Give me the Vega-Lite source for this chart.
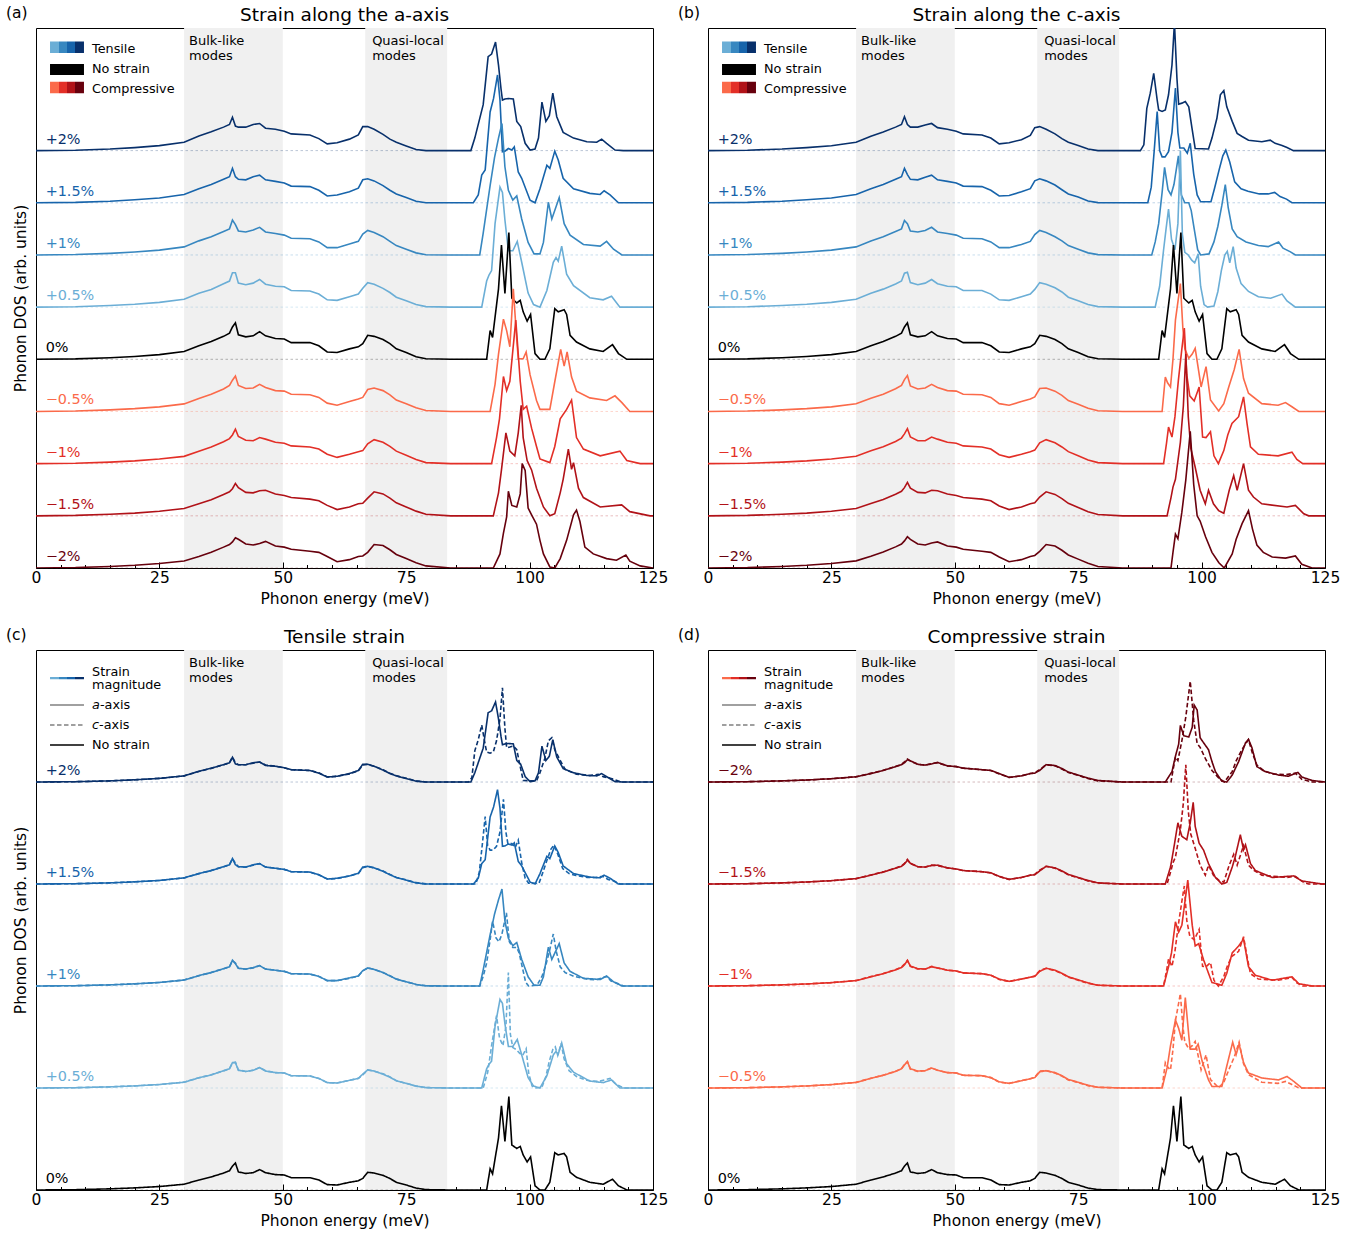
{
"$schema":"https://vega.github.io/schema/vega-lite/v6.json",
"padding":{"left":5,"top":5,"right":5,"bottom":5},
"bounds":"flush",
"columns":2,
"spacing":{"row":82,"column":55},
"config":{"font":"DejaVu Sans","view":{"stroke":"black","strokeWidth":1},
"title":{"fontSize":18.5,"fontWeight":"normal","color":"black","offset":-18,"font":"DejaVu Sans"},
"axisY":{"ticks":false,"labels":false,"domain":false,"grid":false,"titleFontSize":15.5,"titleFontWeight":"normal","titleColor":"black","titlePadding":8,"titleFont":"DejaVu Sans"},
"axisX":{"grid":false,"domain":false,"labelFontSize":15.5,"labelColor":"black","tickColor":"black","titleFontSize":15.5,"titleFontWeight":"normal","titleColor":"black","labelFlush":false,"labelOverlap":false,"labelFont":"DejaVu Sans","titleFont":"DejaVu Sans"}},
"datasets":{
"curves":[
{"k":"at4","ax":"a","g":"t","m":4,"s":"+2%"},{"k":"at3","ax":"a","g":"t","m":3,"s":"+1.5%"},{"k":"at2","ax":"a","g":"t","m":2,"s":"+1%"},{"k":"at1","ax":"a","g":"t","m":1,"s":"+0.5%"},
{"k":"ct4","ax":"c","g":"t","m":4,"s":"+2%"},{"k":"ct3","ax":"c","g":"t","m":3,"s":"+1.5%"},{"k":"ct2","ax":"c","g":"t","m":2,"s":"+1%"},{"k":"ct1","ax":"c","g":"t","m":1,"s":"+0.5%"},
{"k":"z0","ax":"n","g":"z","m":0,"s":"0%"},
{"k":"ac1","ax":"a","g":"c","m":1,"s":"−0.5%"},{"k":"ac2","ax":"a","g":"c","m":2,"s":"−1%"},{"k":"ac3","ax":"a","g":"c","m":3,"s":"−1.5%"},{"k":"ac4","ax":"a","g":"c","m":4,"s":"−2%"},
{"k":"cc1","ax":"c","g":"c","m":1,"s":"−0.5%"},{"k":"cc2","ax":"c","g":"c","m":2,"s":"−1%"},{"k":"cc3","ax":"c","g":"c","m":3,"s":"−1.5%"},{"k":"cc4","ax":"c","g":"c","m":4,"s":"−2%"}],
"dos":[
{"e":0,"at4":0,"at3":0,"at2":0,"at1":0,"ct4":0,"ct3":0,"ct2":0,"ct1":0,"z0":0,"ac1":0,"ac2":0,"ac3":0,"ac4":0,"cc1":0,"cc2":0,"cc3":0,"cc4":0},
{"e":8,"at4":0.008,"at3":0.008,"at2":0.008,"at1":0.008,"ct4":0.008,"ct3":0.008,"ct2":0.008,"ct1":0.008,"z0":0.008,"ac1":0.008,"ac2":0.008,"ac3":0.008,"ac4":0.008,"cc1":0.008,"cc2":0.008,"cc3":0.008,"cc4":0.008},
{"e":15,"at4":0.03,"at3":0.03,"at2":0.03,"at1":0.03,"ct4":0.03,"ct3":0.03,"ct2":0.03,"ct1":0.03,"z0":0.03,"ac1":0.03,"ac2":0.03,"ac3":0.03,"ac4":0.03,"cc1":0.03,"cc2":0.03,"cc3":0.03,"cc4":0.03},
{"e":20,"at4":0.058,"at3":0.057,"at2":0.056,"at1":0.055,"ct4":0.057,"ct3":0.057,"ct2":0.056,"ct1":0.055,"z0":0.055,"ac1":0.054,"ac2":0.053,"ac3":0.052,"ac4":0.052,"cc1":0.054,"cc2":0.053,"cc3":0.052,"cc4":0.052},
{"e":25,"at4":0.095,"at3":0.093,"at2":0.092,"at1":0.091,"ct4":0.094,"ct3":0.093,"ct2":0.092,"ct1":0.091,"z0":0.09,"ac1":0.089,"ac2":0.088,"ac3":0.087,"ac4":0.086,"cc1":0.089,"cc2":0.088,"cc3":0.087,"cc4":0.086},
{"e":30,"at4":0.16,"at3":0.16,"at2":0.155,"at1":0.15,"ct4":0.16,"ct3":0.158,"ct2":0.155,"ct1":0.152,"z0":0.15,"ac1":0.145,"ac2":0.14,"ac3":0.14,"ac4":0.135,"cc1":0.147,"cc2":0.143,"cc3":0.14,"cc4":0.137},
{"e":33,"at4":0.28,"at3":0.27,"at2":0.27,"at1":0.265,"ct4":0.275,"ct3":0.27,"ct2":0.268,"ct1":0.265,"z0":0.26,"ac1":0.25,"ac2":0.24,"ac3":0.23,"ac4":0.22,"cc1":0.252,"cc2":0.245,"cc3":0.235,"cc4":0.225},
{"e":35.5,"at4":0.36,"at3":0.35,"at2":0.35,"at1":0.34,"ct4":0.355,"ct3":0.35,"ct2":0.35,"ct1":0.345,"z0":0.34,"ac1":0.33,"ac2":0.32,"ac3":0.31,"ac4":0.3,"cc1":0.332,"cc2":0.325,"cc3":0.315,"cc4":0.305},
{"e":38,"at4":0.45,"at3":0.45,"at2":0.45,"at1":0.45,"ct4":0.45,"ct3":0.45,"ct2":0.45,"ct1":0.445,"z0":0.44,"ac1":0.43,"ac2":0.42,"ac3":0.41,"ac4":0.4,"cc1":0.435,"cc2":0.425,"cc3":0.415,"cc4":0.405},
{"e":39.2,"at4":0.5,"at3":0.5,"at2":0.5,"at1":0.5,"ct4":0.5,"ct3":0.5,"ct2":0.5,"ct1":0.5,"z0":0.5,"ac1":0.5,"ac2":0.48,"ac3":0.46,"ac4":0.45,"cc1":0.5,"cc2":0.49,"cc3":0.47,"cc4":0.46},
{"e":39.8,"at4":0.64,"at3":0.66,"at2":0.67,"at1":0.66,"ct4":0.65,"ct3":0.66,"ct2":0.66,"ct1":0.65,"z0":0.62,"ac1":0.6,"ac2":0.55,"ac3":0.52,"ac4":0.5,"cc1":0.61,"cc2":0.57,"cc3":0.54,"cc4":0.52},
{"e":40.4,"at4":0.47,"at3":0.5,"at2":0.58,"at1":0.66,"ct4":0.5,"ct3":0.54,"ct2":0.6,"ct1":0.67,"z0":0.7,"ac1":0.68,"ac2":0.66,"ac3":0.62,"ac4":0.58,"cc1":0.69,"cc2":0.67,"cc3":0.64,"cc4":0.6},
{"e":41,"at4":0.45,"at3":0.45,"at2":0.46,"at1":0.46,"ct4":0.45,"ct3":0.45,"ct2":0.46,"ct1":0.47,"z0":0.47,"ac1":0.5,"ac2":0.52,"ac3":0.54,"ac4":0.55,"cc1":0.49,"cc2":0.51,"cc3":0.53,"cc4":0.55},
{"e":42.5,"at4":0.45,"at3":0.44,"at2":0.44,"at1":0.43,"ct4":0.45,"ct3":0.44,"ct2":0.44,"ct1":0.43,"z0":0.43,"ac1":0.44,"ac2":0.45,"ac3":0.45,"ac4":0.46,"cc1":0.43,"cc2":0.44,"cc3":0.45,"cc4":0.46},
{"e":44,"at4":0.5,"at3":0.5,"at2":0.48,"at1":0.46,"ct4":0.49,"ct3":0.49,"ct2":0.47,"ct1":0.46,"z0":0.45,"ac1":0.45,"ac2":0.44,"ac3":0.44,"ac4":0.44,"cc1":0.45,"cc2":0.44,"cc3":0.44,"cc4":0.44},
{"e":45.3,"at4":0.52,"at3":0.53,"at2":0.53,"at1":0.53,"ct4":0.52,"ct3":0.53,"ct2":0.53,"ct1":0.53,"z0":0.53,"ac1":0.52,"ac2":0.5,"ac3":0.48,"ac4":0.47,"cc1":0.52,"cc2":0.51,"cc3":0.49,"cc4":0.48},
{"e":46.5,"at4":0.43,"at3":0.44,"at2":0.44,"at1":0.44,"ct4":0.44,"ct3":0.44,"ct2":0.44,"ct1":0.45,"z0":0.45,"ac1":0.46,"ac2":0.47,"ac3":0.49,"ac4":0.51,"cc1":0.46,"cc2":0.47,"cc3":0.48,"cc4":0.5},
{"e":48.5,"at4":0.41,"at3":0.41,"at2":0.41,"at1":0.4,"ct4":0.41,"ct3":0.41,"ct2":0.41,"ct1":0.4,"z0":0.4,"ac1":0.4,"ac2":0.41,"ac3":0.42,"ac4":0.42,"cc1":0.4,"cc2":0.41,"cc3":0.42,"cc4":0.42},
{"e":50.3,"at4":0.37,"at3":0.38,"at2":0.38,"at1":0.39,"ct4":0.37,"ct3":0.38,"ct2":0.38,"ct1":0.39,"z0":0.39,"ac1":0.39,"ac2":0.39,"ac3":0.39,"ac4":0.4,"cc1":0.39,"cc2":0.39,"cc3":0.39,"cc4":0.4},
{"e":51.7,"at4":0.32,"at3":0.32,"at2":0.32,"at1":0.32,"ct4":0.32,"ct3":0.32,"ct2":0.32,"ct1":0.32,"z0":0.32,"ac1":0.33,"ac2":0.34,"ac3":0.35,"ac4":0.36,"cc1":0.33,"cc2":0.34,"cc3":0.35,"cc4":0.36},
{"e":55.5,"at4":0.3,"at3":0.31,"at2":0.31,"at1":0.31,"ct4":0.3,"ct3":0.31,"ct2":0.31,"ct1":0.32,"z0":0.32,"ac1":0.32,"ac2":0.32,"ac3":0.32,"ac4":0.32,"cc1":0.32,"cc2":0.32,"cc3":0.32,"cc4":0.32},
{"e":57.3,"at4":0.23,"at3":0.24,"at2":0.25,"at1":0.25,"ct4":0.24,"ct3":0.24,"ct2":0.25,"ct1":0.25,"z0":0.26,"ac1":0.27,"ac2":0.28,"ac3":0.29,"ac4":0.3,"cc1":0.27,"cc2":0.28,"cc3":0.29,"cc4":0.3},
{"e":59,"at4":0.13,"at3":0.13,"at2":0.14,"at1":0.14,"ct4":0.13,"ct3":0.13,"ct2":0.14,"ct1":0.14,"z0":0.14,"ac1":0.16,"ac2":0.18,"ac3":0.2,"ac4":0.22,"cc1":0.15,"cc2":0.17,"cc3":0.19,"cc4":0.21},
{"e":61,"at4":0.15,"at3":0.15,"at2":0.14,"at1":0.13,"ct4":0.15,"ct3":0.14,"ct2":0.14,"ct1":0.13,"z0":0.13,"ac1":0.12,"ac2":0.12,"ac3":0.12,"ac4":0.12,"cc1":0.12,"cc2":0.12,"cc3":0.12,"cc4":0.12},
{"e":63.5,"at4":0.22,"at3":0.21,"at2":0.21,"at1":0.2,"ct4":0.21,"ct3":0.21,"ct2":0.2,"ct1":0.2,"z0":0.2,"ac1":0.19,"ac2":0.18,"ac3":0.17,"ac4":0.16,"cc1":0.19,"cc2":0.18,"cc3":0.17,"cc4":0.16},
{"e":65.3,"at4":0.3,"at3":0.28,"at2":0.26,"at1":0.25,"ct4":0.29,"ct3":0.27,"ct2":0.26,"ct1":0.25,"z0":0.24,"ac1":0.24,"ac2":0.23,"ac3":0.23,"ac4":0.22,"cc1":0.24,"cc2":0.23,"cc3":0.23,"cc4":0.22},
{"e":66.2,"at4":0.46,"at3":0.44,"at2":0.4,"at1":0.36,"ct4":0.44,"ct3":0.42,"ct2":0.39,"ct1":0.34,"z0":0.3,"ac1":0.27,"ac2":0.25,"ac3":0.24,"ac4":0.23,"cc1":0.28,"cc2":0.26,"cc3":0.25,"cc4":0.24},
{"e":67.2,"at4":0.46,"at3":0.46,"at2":0.47,"at1":0.47,"ct4":0.46,"ct3":0.46,"ct2":0.47,"ct1":0.47,"z0":0.46,"ac1":0.42,"ac2":0.38,"ac3":0.34,"ac4":0.3,"cc1":0.44,"cc2":0.4,"cc3":0.36,"cc4":0.32},
{"e":68.5,"at4":0.41,"at3":0.42,"at2":0.43,"at1":0.44,"ct4":0.41,"ct3":0.42,"ct2":0.43,"ct1":0.44,"z0":0.44,"ac1":0.45,"ac2":0.46,"ac3":0.46,"ac4":0.45,"cc1":0.45,"cc2":0.46,"cc3":0.46,"cc4":0.45},
{"e":70.3,"at4":0.31,"at3":0.33,"at2":0.35,"at1":0.36,"ct4":0.32,"ct3":0.34,"ct2":0.35,"ct1":0.37,"z0":0.38,"ac1":0.4,"ac2":0.41,"ac3":0.42,"ac4":0.43,"cc1":0.39,"cc2":0.4,"cc3":0.41,"cc4":0.42},
{"e":71.7,"at4":0.22,"at3":0.24,"at2":0.26,"at1":0.28,"ct4":0.23,"ct3":0.25,"ct2":0.27,"ct1":0.29,"z0":0.3,"ac1":0.32,"ac2":0.33,"ac3":0.34,"ac4":0.35,"cc1":0.31,"cc2":0.32,"cc3":0.33,"cc4":0.34},
{"e":73,"at4":0.16,"at3":0.17,"at2":0.18,"at1":0.19,"ct4":0.16,"ct3":0.17,"ct2":0.18,"ct1":0.19,"z0":0.2,"ac1":0.22,"ac2":0.24,"ac3":0.25,"ac4":0.26,"cc1":0.21,"cc2":0.23,"cc3":0.24,"cc4":0.25},
{"e":75,"at4":0.09,"at3":0.1,"at2":0.11,"at1":0.12,"ct4":0.1,"ct3":0.11,"ct2":0.11,"ct1":0.12,"z0":0.13,"ac1":0.15,"ac2":0.16,"ac3":0.17,"ac4":0.18,"cc1":0.14,"cc2":0.15,"cc3":0.16,"cc4":0.17},
{"e":77,"at4":0.02,"at3":0.03,"at2":0.04,"at1":0.05,"ct4":0.03,"ct3":0.035,"ct2":0.04,"ct1":0.05,"z0":0.05,"ac1":0.07,"ac2":0.08,"ac3":0.09,"ac4":0.1,"cc1":0.06,"cc2":0.07,"cc3":0.08,"cc4":0.09},
{"e":79,"at4":0,"at3":0,"at2":0.005,"at1":0.01,"ct4":0,"ct3":0.003,"ct2":0.006,"ct1":0.01,"z0":0.01,"ac1":0.02,"ac2":0.02,"ac3":0.03,"ac4":0.04,"cc1":0.015,"cc2":0.02,"cc3":0.025,"cc4":0.03},
{"e":84,"at4":0,"at3":0,"at2":0,"at1":0,"ct4":0,"ct3":0,"ct2":0,"ct1":0,"z0":0,"ac1":0,"ac2":0,"ac3":0,"ac4":0,"cc1":0,"cc2":0,"cc3":0,"cc4":0},
{"e":88.1,"at4":0},{"e":88.9,"at4":0.24},{"e":90.6,"at4":0.88},{"e":91.6,"at4":1.8},{"e":92.3,"at4":1.85},{"e":93.1,"at4":2.08},{"e":93.7,"at4":1.64},{"e":94.2,"at4":1.19},{"e":94.5,"at4":0.97},{"e":95.0,"at4":0.99},{"e":95.7,"at4":1.0},{"e":96.7,"at4":0.99},{"e":97.4,"at4":0.56},{"e":98.2,"at4":0.46},{"e":99.1,"at4":0.14},{"e":100.1,"at4":0.01},{"e":101.1,"at4":0.03},{"e":101.8,"at4":0.24},{"e":102.5,"at4":0.93},{"e":103.3,"at4":0.56},{"e":104.0,"at4":0.67},{"e":104.7,"at4":1.1},{"e":105.5,"at4":0.65},{"e":106.8,"at4":0.35},{"e":108.9,"at4":0.24},{"e":111.6,"at4":0.17},{"e":113.6,"at4":0.16},{"e":114.6,"at4":0.22},{"e":115.6,"at4":0.14},{"e":117.3,"at4":0.01},{"e":119.0,"at4":0},
{"e":88.6,"at3":0},{"e":89.6,"at3":0.15},{"e":90.3,"at3":0.53},{"e":91.0,"at3":0.63},{"e":92.0,"at3":1.74},{"e":92.7,"at3":2.0},{"e":93.5,"at3":2.45},{"e":94.0,"at3":1.97},{"e":94.5,"at3":0.98},{"e":95.0,"at3":0.99},{"e":95.7,"at3":1.04},{"e":96.4,"at3":1.01},{"e":96.9,"at3":1.07},{"e":97.7,"at3":0.59},{"e":98.4,"at3":0.47},{"e":100.1,"at3":0.05},{"e":101.1,"at3":0},{"e":102.1,"at3":0.27},{"e":103.5,"at3":0.72},{"e":104.1,"at3":0.66},{"e":105.1,"at3":0.99},{"e":105.8,"at3":0.82},{"e":106.8,"at3":0.47},{"e":108.9,"at3":0.27},{"e":112.2,"at3":0.18},{"e":114.3,"at3":0.16},{"e":115.1,"at3":0.23},{"e":116.3,"at3":0.15},{"e":118.0,"at3":0},
{"e":89.9,"at2":0},{"e":90.6,"at2":0.42},{"e":92.0,"at2":1.33},{"e":92.9,"at2":1.87},{"e":93.7,"at2":2.24},{"e":94.4,"at2":2.52},{"e":95.0,"at2":1.69},{"e":95.7,"at2":1.24},{"e":96.6,"at2":1.05},{"e":97.4,"at2":1.13},{"e":98.4,"at2":0.69},{"e":99.7,"at2":0.24},{"e":100.9,"at2":0.02},{"e":102.1,"at2":0.02},{"e":102.8,"at2":0.24},{"e":103.8,"at2":1.01},{"e":104.5,"at2":0.69},{"e":106.0,"at2":1.1},{"e":107.0,"at2":0.6},{"e":108.2,"at2":0.38},{"e":110.9,"at2":0.2},{"e":114.3,"at2":0.17},{"e":115.6,"at2":0.26},{"e":117.0,"at2":0.11},{"e":118.7,"at2":0},
{"e":90.3,"at1":0},{"e":91.3,"at1":0.5},{"e":91.8,"at1":0.62},{"e":92.3,"at1":0.7},{"e":93.0,"at1":1.6},{"e":94.0,"at1":2.3},{"e":94.5,"at1":2.2},{"e":95.0,"at1":1.67},{"e":95.7,"at1":1.08},{"e":96.6,"at1":1.08},{"e":97.5,"at1":1.26},{"e":98.4,"at1":0.86},{"e":99.7,"at1":0.27},{"e":100.8,"at1":0.05},{"e":102.1,"at1":0},{"e":103.5,"at1":0.32},{"e":104.8,"at1":0.86},{"e":105.35,"at1":0.95},{"e":105.8,"at1":0.88},{"e":106.5,"at1":1.17},{"e":107.5,"at1":0.63},{"e":108.9,"at1":0.41},{"e":112.2,"at1":0.18},{"e":114.9,"at1":0.14},{"e":116.6,"at1":0.21},{"e":118.3,"at1":0},
{"e":87.6,"ct4":0},{"e":88.3,"ct4":0.11},{"e":88.9,"ct4":0.81},{"e":89.6,"ct4":1.1},{"e":90.3,"ct4":1.48},{"e":91.0,"ct4":0.97},{"e":91.3,"ct4":0.78},{"e":92.0,"ct4":0.75},{"e":92.65,"ct4":0.78},{"e":93.3,"ct4":1.07},{"e":94.0,"ct4":1.64},{"e":94.5,"ct4":2.45},{"e":95.0,"ct4":1.39},{"e":95.35,"ct4":0.89},{"e":96.0,"ct4":0.91},{"e":96.7,"ct4":0.94},{"e":97.4,"ct4":0.84},{"e":98.05,"ct4":0.43},{"e":98.7,"ct4":0.04},{"e":101.4,"ct4":0.03},{"e":102.1,"ct4":0.24},{"e":103.1,"ct4":0.62},{"e":103.8,"ct4":1.07},{"e":104.5,"ct4":1.15},{"e":105.1,"ct4":0.84},{"e":106.2,"ct4":0.56},{"e":107.2,"ct4":0.33},{"e":108.2,"ct4":0.27},{"e":109.5,"ct4":0.2},{"e":112.2,"ct4":0.17},{"e":113.9,"ct4":0.2},{"e":114.9,"ct4":0.14},{"e":116.3,"ct4":0.1},{"e":117.3,"ct4":0.06},{"e":118.6,"ct4":0},
{"e":89.1,"ct3":0},{"e":89.8,"ct3":0.3},{"e":90.4,"ct3":1.0},{"e":91.0,"ct3":1.75},{"e":91.5,"ct3":1.0},{"e":92.0,"ct3":0.88},{"e":92.6,"ct3":0.88},{"e":93.3,"ct3":0.98},{"e":94.0,"ct3":1.35},{"e":94.7,"ct3":2.2},{"e":95.2,"ct3":1.35},{"e":95.6,"ct3":1.05},{"e":96.4,"ct3":1.05},{"e":97.1,"ct3":0.95},{"e":97.7,"ct3":1.14},{"e":98.4,"ct3":0.55},{"e":99.1,"ct3":0.15},{"e":99.8,"ct3":0.02},{"e":101.9,"ct3":0.02},{"e":102.6,"ct3":0.27},{"e":103.6,"ct3":0.65},{"e":104.3,"ct3":0.9},{"e":104.9,"ct3":1.01},{"e":105.7,"ct3":0.78},{"e":106.7,"ct3":0.4},{"e":108.0,"ct3":0.27},{"e":109.4,"ct3":0.22},{"e":111.7,"ct3":0.17},{"e":113.5,"ct3":0.17},{"e":114.8,"ct3":0.2},{"e":115.9,"ct3":0.12},{"e":117.2,"ct3":0.07},{"e":118.3,"ct3":0},
{"e":89.9,"ct2":0},{"e":90.6,"ct2":0.25},{"e":91.3,"ct2":0.6},{"e":92.0,"ct2":1.2},{"e":92.5,"ct2":1.68},{"e":93.2,"ct2":1.25},{"e":93.8,"ct2":1.15},{"e":94.4,"ct2":1.35},{"e":95.3,"ct2":1.9},{"e":95.9,"ct2":1.15},{"e":96.6,"ct2":1.0},{"e":97.4,"ct2":1.0},{"e":97.9,"ct2":0.85},{"e":98.5,"ct2":0.5},{"e":99.2,"ct2":0.1},{"e":99.8,"ct2":0},{"e":101.5,"ct2":0.02},{"e":102.5,"ct2":0.25},{"e":103.3,"ct2":0.55},{"e":104.1,"ct2":0.95},{"e":104.8,"ct2":1.35},{"e":105.4,"ct2":0.9},{"e":106.2,"ct2":0.5},{"e":107.2,"ct2":0.35},{"e":109.0,"ct2":0.25},{"e":111.5,"ct2":0.18},{"e":113.5,"ct2":0.16},{"e":115.6,"ct2":0.25},{"e":116.5,"ct2":0.13},{"e":118.0,"ct2":0.06},{"e":119.0,"ct2":0},
{"e":90.6,"ct1":0},{"e":91.5,"ct1":0.4},{"e":92.3,"ct1":1.1},{"e":92.8,"ct1":1.5},{"e":93.3,"ct1":1.88},{"e":93.9,"ct1":1.3},{"e":94.6,"ct1":1.1},{"e":95.2,"ct1":1.6},{"e":95.7,"ct1":3.0},{"e":96.1,"ct1":1.4},{"e":96.6,"ct1":1.05},{"e":97.3,"ct1":1.0},{"e":98.0,"ct1":0.9},{"e":98.6,"ct1":0.85},{"e":99.3,"ct1":1.02},{"e":99.8,"ct1":0.4},{"e":100.5,"ct1":0.05},{"e":101.2,"ct1":0},{"e":102.5,"ct1":0.02},{"e":103.3,"ct1":0.3},{"e":104.0,"ct1":0.7},{"e":104.7,"ct1":1.0},{"e":105.2,"ct1":1.07},{"e":105.7,"ct1":0.85},{"e":106.4,"ct1":1.16},{"e":107.0,"ct1":0.75},{"e":108.0,"ct1":0.45},{"e":109.5,"ct1":0.3},{"e":111.5,"ct1":0.2},{"e":114.0,"ct1":0.17},{"e":116.3,"ct1":0.25},{"e":117.3,"ct1":0.12},{"e":119.0,"ct1":0},
{"e":91.3,"z0":0},{"e":92.0,"z0":0.55},{"e":92.5,"z0":0.42},{"e":93.7,"z0":1.35},{"e":94.3,"z0":2.19},{"e":95.0,"z0":1.26},{"e":95.8,"z0":2.43},{"e":96.4,"z0":1.17},{"e":97.4,"z0":1.08},{"e":98.1,"z0":1.13},{"e":98.7,"z0":0.91},{"e":99.5,"z0":0.73},{"e":100.2,"z0":0.86},{"e":101.1,"z0":0.11},{"e":102.1,"z0":0},{"e":103.1,"z0":0},{"e":104.1,"z0":0.2},{"e":105.1,"z0":0.97},{"e":105.8,"z0":0.91},{"e":107.0,"z0":0.95},{"e":107.5,"z0":0.86},{"e":108.2,"z0":0.46},{"e":109.5,"z0":0.33},{"e":112.2,"z0":0.2},{"e":114.9,"z0":0.15},{"e":116.8,"z0":0.28},{"e":118.0,"z0":0.11},{"e":119.7,"z0":0},
{"e":92.0,"ac1":0},{"e":93.0,"ac1":0.52},{"e":93.7,"ac1":1.1},{"e":94.7,"ac1":1.77},{"e":95.35,"ac1":1.55},{"e":96.0,"ac1":1.24},{"e":96.7,"ac1":2.35},{"e":97.4,"ac1":1.37},{"e":97.7,"ac1":1.01},{"e":98.7,"ac1":1.01},{"e":99.3,"ac1":1.14},{"e":100.1,"ac1":0.7},{"e":101.4,"ac1":0.21},{"e":102.1,"ac1":0.04},{"e":104.1,"ac1":0.04},{"e":105.1,"ac1":0.57},{"e":106.3,"ac1":1.19},{"e":107.0,"ac1":0.87},{"e":107.6,"ac1":1.14},{"e":108.5,"ac1":0.66},{"e":109.5,"ac1":0.39},{"e":112.2,"ac1":0.26},{"e":115.6,"ac1":0.21},{"e":117.3,"ac1":0.3},{"e":118.7,"ac1":0.17},{"e":120.3,"ac1":0},
{"e":92.3,"ac2":0},{"e":93.3,"ac2":0.5},{"e":93.9,"ac2":0.86},{"e":94.7,"ac2":1.67},{"e":95.35,"ac2":1.4},{"e":96.0,"ac2":1.58},{"e":97.2,"ac2":2.75},{"e":98.1,"ac2":1.58},{"e":98.7,"ac2":1.04},{"e":99.4,"ac2":1.1},{"e":100.4,"ac2":0.68},{"e":101.4,"ac2":0.33},{"e":102.1,"ac2":0.09},{"e":104.1,"ac2":0.02},{"e":105.1,"ac2":0.33},{"e":106.2,"ac2":0.86},{"e":107.5,"ac2":1.04},{"e":108.5,"ac2":1.22},{"e":109.5,"ac2":0.5},{"e":110.9,"ac2":0.28},{"e":114.3,"ac2":0.15},{"e":118.3,"ac2":0.24},{"e":119.7,"ac2":0.06},{"e":122.4,"ac2":0},
{"e":92.65,"ac3":0},{"e":93.7,"ac3":0.44},{"e":94.3,"ac3":0.88},{"e":95.2,"ac3":1.59},{"e":96.0,"ac3":1.24},{"e":97.0,"ac3":1.15},{"e":97.7,"ac3":1.59},{"e":98.3,"ac3":2.12},{"e":98.7,"ac3":1.5},{"e":99.5,"ac3":1.06},{"e":100.4,"ac3":0.88},{"e":101.4,"ac3":0.53},{"e":102.8,"ac3":0.17},{"e":104.1,"ac3":0},{"e":105.1,"ac3":0.04},{"e":106.2,"ac3":0.44},{"e":106.8,"ac3":0.7},{"e":107.85,"ac3":1.28},{"e":108.5,"ac3":0.89},{"e":108.9,"ac3":1.02},{"e":109.9,"ac3":0.53},{"e":110.9,"ac3":0.35},{"e":114.3,"ac3":0.17},{"e":118.65,"ac3":0.21},{"e":120.3,"ac3":0.08},{"e":124.4,"ac3":0},
{"e":92.65,"ac4":0},{"e":94.0,"ac4":0.27},{"e":94.7,"ac4":0.67},{"e":95.35,"ac4":0.98},{"e":95.7,"ac4":1.47},{"e":96.4,"ac4":1.2},{"e":97.4,"ac4":1.17},{"e":98.1,"ac4":1.42},{"e":98.5,"ac4":2.0},{"e":99.1,"ac4":1.87},{"e":99.7,"ac4":1.15},{"e":100.4,"ac4":1.02},{"e":101.4,"ac4":0.84},{"e":102.1,"ac4":0.53},{"e":102.8,"ac4":0.27},{"e":104.1,"ac4":0.02},{"e":105.1,"ac4":0},{"e":106.2,"ac4":0.18},{"e":107.5,"ac4":0.53},{"e":108.9,"ac4":1.02},{"e":109.5,"ac4":1.11},{"e":110.2,"ac4":0.89},{"e":111.2,"ac4":0.4},{"e":112.9,"ac4":0.27},{"e":115.6,"ac4":0.18},{"e":117.6,"ac4":0.15},{"e":119.5,"ac4":0.25},{"e":120.3,"ac4":0.13},{"e":122.4,"ac4":0.04},
{"e":92.0,"cc1":0},{"e":92.65,"cc1":0.66},{"e":93.1,"cc1":0.55},{"e":93.7,"cc1":0.47},{"e":94.2,"cc1":1.0},{"e":94.7,"cc1":1.75},{"e":95.7,"cc1":2.45},{"e":96.2,"cc1":1.6},{"e":96.6,"cc1":1.2},{"e":97.4,"cc1":1.02},{"e":98.1,"cc1":1.1},{"e":98.7,"cc1":1.21},{"e":99.9,"cc1":0.47},{"e":100.9,"cc1":0.86},{"e":101.8,"cc1":0.22},{"e":103.45,"cc1":0.01},{"e":104.5,"cc1":0.15},{"e":105.5,"cc1":0.47},{"e":106.6,"cc1":0.8},{"e":107.6,"cc1":1.19},{"e":108.5,"cc1":0.63},{"e":109.5,"cc1":0.35},{"e":112.2,"cc1":0.15},{"e":115.5,"cc1":0.12},{"e":117.0,"cc1":0.17},{"e":118.3,"cc1":0.09},{"e":119.7,"cc1":0},
{"e":92.3,"cc2":0},{"e":92.9,"cc2":0.4},{"e":93.3,"cc2":0.7},{"e":94.0,"cc2":0.51},{"e":94.6,"cc2":0.9},{"e":95.3,"cc2":1.6},{"e":96.0,"cc2":2.2},{"e":96.5,"cc2":2.6},{"e":97.0,"cc2":1.7},{"e":97.6,"cc2":1.3},{"e":98.5,"cc2":1.2},{"e":99.5,"cc2":1.47},{"e":100.2,"cc2":0.51},{"e":100.9,"cc2":0.5},{"e":101.8,"cc2":0.61},{"e":102.5,"cc2":0.15},{"e":103.4,"cc2":0},{"e":104.5,"cc2":0.25},{"e":105.3,"cc2":0.55},{"e":106.15,"cc2":0.77},{"e":107.5,"cc2":0.9},{"e":108.5,"cc2":1.28},{"e":109.2,"cc2":0.77},{"e":109.9,"cc2":0.32},{"e":111.5,"cc2":0.18},{"e":115.5,"cc2":0.15},{"e":118.3,"cc2":0.22},{"e":119.3,"cc2":0.08},{"e":120.5,"cc2":0},
{"e":93.0,"cc3":0},{"e":93.8,"cc3":0.35},{"e":94.2,"cc3":0.55},{"e":94.7,"cc3":0.7},{"e":95.7,"cc3":1.41},{"e":96.3,"cc3":2.1},{"e":96.8,"cc3":3.1},{"e":97.3,"cc3":1.9},{"e":97.8,"cc3":1.3},{"e":98.7,"cc3":0.93},{"e":99.7,"cc3":0.49},{"e":100.75,"cc3":0.23},{"e":101.4,"cc3":0.49},{"e":102.4,"cc3":0.23},{"e":103.45,"cc3":0.1},{"e":104.5,"cc3":0.05},{"e":105.6,"cc3":0.49},{"e":106.5,"cc3":0.77},{"e":107.2,"cc3":0.49},{"e":108.5,"cc3":1.0},{"e":109.5,"cc3":0.49},{"e":110.5,"cc3":0.36},{"e":112.2,"cc3":0.23},{"e":117.3,"cc3":0.17},{"e":119.0,"cc3":0.2},{"e":120.7,"cc3":0.04},{"e":121.7,"cc3":0},
{"e":93.8,"cc4":0},{"e":94.2,"cc4":0.3},{"e":94.7,"cc4":0.65},{"e":95.2,"cc4":0.56},{"e":96.0,"cc4":1.07},{"e":96.8,"cc4":1.69},{"e":97.7,"cc4":2.62},{"e":98.4,"cc4":1.6},{"e":99.1,"cc4":1.0},{"e":99.7,"cc4":0.9},{"e":100.8,"cc4":0.6},{"e":102.1,"cc4":0.3},{"e":103.5,"cc4":0.1},{"e":104.6,"cc4":0},{"e":106.2,"cc4":0.27},{"e":107.0,"cc4":0.55},{"e":108.2,"cc4":0.85},{"e":109.5,"cc4":1.1},{"e":110.3,"cc4":0.75},{"e":111.2,"cc4":0.44},{"e":112.5,"cc4":0.3},{"e":114.3,"cc4":0.21},{"e":117.0,"cc4":0.19},{"e":119.0,"cc4":0.23},{"e":120.3,"cc4":0.07},{"e":122.4,"cc4":0},
{"e":125,"at4":0,"at3":0,"at2":0,"at1":0,"ct4":0,"ct3":0,"ct2":0,"ct1":0,"z0":0,"ac1":0,"ac2":0,"ac3":0,"ac4":0,"cc1":0,"cc2":0,"cc3":0,"cc4":0}
]},
"concat":[
{"width":617,"height":540,"title":"Strain along the a-axis","resolve":{"axis":{"x":"independent"}},
"layer":[
{"data":{"values":[{}]},"mark":{"type":"rect","color":"#f0f0f0"},"encoding":{"x":{"datum":30,"type":"quantitative","axis":{"orient":"bottom","values":[5,10,15,20,30,35,40,45,55,60,65,70,80,85,90,95,105,110,115,120],"tickSize":-3.5,"labels":false,"title":null,"domain":false}},"x2":{"datum":50}}},
{"data":{"values":[{}]},"mark":{"type":"rect","color":"#f0f0f0"},"encoding":{"x":{"datum":66.7,"type":"quantitative","axis":null},"x2":{"datum":83.3}}},
{"data":{"values":[{}]},"mark":{"type":"text","align":"left","baseline":"top","fontSize":13,"lineHeight":15,"color":"black"},"encoding":{"x":{"datum":31,"type":"quantitative","axis":null},"y":{"datum":10.22,"type":"quantitative"},"text":{"value":["Bulk-like","modes"]}}},
{"data":{"values":[{}]},"mark":{"type":"text","align":"left","baseline":"top","fontSize":13,"lineHeight":15,"color":"black"},"encoding":{"x":{"datum":68.1,"type":"quantitative","axis":null},"y":{"datum":10.22,"type":"quantitative"},"text":{"value":["Quasi-local","modes"]}}},
{"data":{"name":"curves"},"transform":[{"filter":"datum.ax !== 'c'"},{"calculate":"datum.g === 'c' ? 4 - datum.m : 4 + datum.m","as":"lvl"}],
 "mark":{"type":"rule","strokeDash":[2.5,2.5],"strokeWidth":0.8,"opacity":0.35},
 "encoding":{"y":{"field":"lvl","type":"quantitative","axis":{"title":"Phonon DOS (arb. units)"}},"color":{"field":"s","type":"nominal","legend":null,"scale":{"domain":["+2%","+1.5%","+1%","+0.5%","0%","−0.5%","−1%","−1.5%","−2%"],"range":["#08306b","#1764ab","#3787c0","#6baed6","#000000","#fb6a4a","#e32f27","#b11218","#67000d"]}}}},
{"data":{"name":"dos"},"transform":[{"fold":["at4","at3","at2","at1","ct4","ct3","ct2","ct1","z0","ac1","ac2","ac3","ac4","cc1","cc2","cc3","cc4"],"as":["k","v"]},{"filter":"isValid(datum.v)"},{"lookup":"k","from":{"data":{"name":"curves"},"key":"k","fields":["ax","g","m","s"]}},{"filter":"datum.ax !== 'c'"},{"calculate":"datum.v + (datum.g === 'c' ? 4 - datum.m : 4 + datum.m)","as":"y"}],
 "mark":{"type":"line","strokeWidth":1.6,"clip":true},
 "encoding":{"x":{"field":"e","type":"quantitative","scale":{"domain":[0,125],"nice":false},"axis":{"orient":"bottom","title":"Phonon energy (meV)","values":[0,25,50,75,100,125],"labelOverlap":false,"tickSize":-6,"labelPadding":8,"titlePadding":6}},
 "y":{"field":"y","type":"quantitative","scale":{"domain":[0,10.35],"nice":false,"zero":false},"axis":{"title":"Phonon DOS (arb. units)"}},
 "color":{"field":"s","type":"nominal","legend":null},"detail":{"field":"k"}}},
{"data":{"name":"curves"},"transform":[{"filter":"datum.ax !== 'c'"},{"calculate":"datum.g === 'c' ? 4 - datum.m : 4 + datum.m","as":"lvl"}],
 "mark":{"type":"text","align":"left","baseline":"alphabetic","dy":-7,"fontSize":14.4},
 "encoding":{"x":{"datum":1.95,"type":"quantitative","axis":null},"y":{"field":"lvl","type":"quantitative","axis":{"title":"Phonon DOS (arb. units)"}},"text":{"field":"s"},"color":{"field":"s","type":"nominal","legend":null}}},
{"data":{"values":[{}]},"mark":{"type":"rect","fill":{"gradient":"linear","x1":0,"x2":1,"y1":0,"y2":0,"stops":[{"offset":0,"color":"#6baed6"},{"offset":0.25,"color":"#6baed6"},{"offset":0.25,"color":"#3787c0"},{"offset":0.5,"color":"#3787c0"},{"offset":0.5,"color":"#1764ab"},{"offset":0.75,"color":"#1764ab"},{"offset":0.75,"color":"#08306b"},{"offset":1,"color":"#08306b"}]}},"encoding":{"x":{"datum":2.84,"type":"quantitative","axis":null},"x2":{"datum":9.72},"y":{"datum":9.87,"type":"quantitative"},"y2":{"datum":10.09}}},
{"data":{"values":[{}]},"mark":{"type":"rect","fill":"#000000"},"encoding":{"x":{"datum":2.84,"type":"quantitative","axis":null},"x2":{"datum":9.72},"y":{"datum":9.45,"type":"quantitative"},"y2":{"datum":9.66}}},
{"data":{"values":[{}]},"mark":{"type":"rect","fill":{"gradient":"linear","x1":0,"x2":1,"y1":0,"y2":0,"stops":[{"offset":0,"color":"#fb6a4a"},{"offset":0.25,"color":"#fb6a4a"},{"offset":0.25,"color":"#e32f27"},{"offset":0.5,"color":"#e32f27"},{"offset":0.5,"color":"#b11218"},{"offset":0.75,"color":"#b11218"},{"offset":0.75,"color":"#67000d"},{"offset":1,"color":"#67000d"}]}},"encoding":{"x":{"datum":2.84,"type":"quantitative","axis":null},"x2":{"datum":9.72},"y":{"datum":9.1,"type":"quantitative"},"y2":{"datum":9.32}}},
{"data":{"values":[{}]},"mark":{"type":"text","align":"left","baseline":"middle","fontSize":12.8,"color":"black"},"encoding":{"x":{"datum":11.35,"type":"quantitative","axis":null},"y":{"datum":9.95,"type":"quantitative"},"text":{"value":"Tensile"}}},
{"data":{"values":[{}]},"mark":{"type":"text","align":"left","baseline":"middle","fontSize":12.8,"color":"black"},"encoding":{"x":{"datum":11.35,"type":"quantitative","axis":null},"y":{"datum":9.565,"type":"quantitative"},"text":{"value":"No strain"}}},
{"data":{"values":[{}]},"mark":{"type":"text","align":"left","baseline":"middle","fontSize":12.8,"color":"black"},"encoding":{"x":{"datum":11.35,"type":"quantitative","axis":null},"y":{"datum":9.18,"type":"quantitative"},"text":{"value":"Compressive"}}},
{"data":{"values":[{}]},"mark":{"type":"text","align":"left","baseline":"middle","fontSize":15.5,"dx":-30,"dy":-15,"color":"black"},"encoding":{"x":{"datum":0,"type":"quantitative","axis":null},"y":{"datum":10.35,"type":"quantitative"},"text":{"value":"(a)"}}}
]},
{"width":617,"height":540,"title":"Strain along the c-axis","resolve":{"axis":{"x":"independent"}},
"layer":[
{"data":{"values":[{}]},"mark":{"type":"rect","color":"#f0f0f0"},"encoding":{"x":{"datum":30,"type":"quantitative","axis":{"orient":"bottom","values":[5,10,15,20,30,35,40,45,55,60,65,70,80,85,90,95,105,110,115,120],"tickSize":-3.5,"labels":false,"title":null,"domain":false}},"x2":{"datum":50}}},
{"data":{"values":[{}]},"mark":{"type":"rect","color":"#f0f0f0"},"encoding":{"x":{"datum":66.7,"type":"quantitative","axis":null},"x2":{"datum":83.3}}},
{"data":{"values":[{}]},"mark":{"type":"text","align":"left","baseline":"top","fontSize":13,"lineHeight":15,"color":"black"},"encoding":{"x":{"datum":31,"type":"quantitative","axis":null},"y":{"datum":10.22,"type":"quantitative","axis":{"title":null}},"text":{"value":["Bulk-like","modes"]}}},
{"data":{"values":[{}]},"mark":{"type":"text","align":"left","baseline":"top","fontSize":13,"lineHeight":15,"color":"black"},"encoding":{"x":{"datum":68.1,"type":"quantitative","axis":null},"y":{"datum":10.22,"type":"quantitative","axis":{"title":null}},"text":{"value":["Quasi-local","modes"]}}},
{"data":{"name":"curves"},"transform":[{"filter":"datum.ax !== 'a'"},{"calculate":"datum.g === 'c' ? 4 - datum.m : 4 + datum.m","as":"lvl"}],
 "mark":{"type":"rule","strokeDash":[2.5,2.5],"strokeWidth":0.8,"opacity":0.35},
 "encoding":{"y":{"field":"lvl","type":"quantitative","axis":{"title":null}},"color":{"field":"s","type":"nominal","legend":null,"scale":{"domain":["+2%","+1.5%","+1%","+0.5%","0%","−0.5%","−1%","−1.5%","−2%"],"range":["#08306b","#1764ab","#3787c0","#6baed6","#000000","#fb6a4a","#e32f27","#b11218","#67000d"]}}}},
{"data":{"name":"dos"},"transform":[{"fold":["at4","at3","at2","at1","ct4","ct3","ct2","ct1","z0","ac1","ac2","ac3","ac4","cc1","cc2","cc3","cc4"],"as":["k","v"]},{"filter":"isValid(datum.v)"},{"lookup":"k","from":{"data":{"name":"curves"},"key":"k","fields":["ax","g","m","s"]}},{"filter":"datum.ax !== 'a'"},{"calculate":"datum.v + (datum.g === 'c' ? 4 - datum.m : 4 + datum.m)","as":"y"}],
 "mark":{"type":"line","strokeWidth":1.6,"clip":true},
 "encoding":{"x":{"field":"e","type":"quantitative","scale":{"domain":[0,125],"nice":false},"axis":{"orient":"bottom","title":"Phonon energy (meV)","values":[0,25,50,75,100,125],"labelOverlap":false,"tickSize":-6,"labelPadding":8,"titlePadding":6}},
 "y":{"field":"y","type":"quantitative","scale":{"domain":[0,10.35],"nice":false,"zero":false},"axis":{"title":null}},
 "color":{"field":"s","type":"nominal","legend":null},"detail":{"field":"k"}}},
{"data":{"name":"curves"},"transform":[{"filter":"datum.ax !== 'a'"},{"calculate":"datum.g === 'c' ? 4 - datum.m : 4 + datum.m","as":"lvl"}],
 "mark":{"type":"text","align":"left","baseline":"alphabetic","dy":-7,"fontSize":14.4},
 "encoding":{"x":{"datum":1.95,"type":"quantitative","axis":null},"y":{"field":"lvl","type":"quantitative","axis":{"title":null}},"text":{"field":"s"},"color":{"field":"s","type":"nominal","legend":null}}},
{"data":{"values":[{}]},"mark":{"type":"rect","fill":{"gradient":"linear","x1":0,"x2":1,"y1":0,"y2":0,"stops":[{"offset":0,"color":"#6baed6"},{"offset":0.25,"color":"#6baed6"},{"offset":0.25,"color":"#3787c0"},{"offset":0.5,"color":"#3787c0"},{"offset":0.5,"color":"#1764ab"},{"offset":0.75,"color":"#1764ab"},{"offset":0.75,"color":"#08306b"},{"offset":1,"color":"#08306b"}]}},"encoding":{"x":{"datum":2.84,"type":"quantitative","axis":null},"x2":{"datum":9.72},"y":{"datum":9.87,"type":"quantitative","axis":{"title":null}},"y2":{"datum":10.09}}},
{"data":{"values":[{}]},"mark":{"type":"rect","fill":"#000000"},"encoding":{"x":{"datum":2.84,"type":"quantitative","axis":null},"x2":{"datum":9.72},"y":{"datum":9.45,"type":"quantitative","axis":{"title":null}},"y2":{"datum":9.66}}},
{"data":{"values":[{}]},"mark":{"type":"rect","fill":{"gradient":"linear","x1":0,"x2":1,"y1":0,"y2":0,"stops":[{"offset":0,"color":"#fb6a4a"},{"offset":0.25,"color":"#fb6a4a"},{"offset":0.25,"color":"#e32f27"},{"offset":0.5,"color":"#e32f27"},{"offset":0.5,"color":"#b11218"},{"offset":0.75,"color":"#b11218"},{"offset":0.75,"color":"#67000d"},{"offset":1,"color":"#67000d"}]}},"encoding":{"x":{"datum":2.84,"type":"quantitative","axis":null},"x2":{"datum":9.72},"y":{"datum":9.1,"type":"quantitative","axis":{"title":null}},"y2":{"datum":9.32}}},
{"data":{"values":[{}]},"mark":{"type":"text","align":"left","baseline":"middle","fontSize":12.8,"color":"black"},"encoding":{"x":{"datum":11.35,"type":"quantitative","axis":null},"y":{"datum":9.95,"type":"quantitative","axis":{"title":null}},"text":{"value":"Tensile"}}},
{"data":{"values":[{}]},"mark":{"type":"text","align":"left","baseline":"middle","fontSize":12.8,"color":"black"},"encoding":{"x":{"datum":11.35,"type":"quantitative","axis":null},"y":{"datum":9.565,"type":"quantitative","axis":{"title":null}},"text":{"value":"No strain"}}},
{"data":{"values":[{}]},"mark":{"type":"text","align":"left","baseline":"middle","fontSize":12.8,"color":"black"},"encoding":{"x":{"datum":11.35,"type":"quantitative","axis":null},"y":{"datum":9.18,"type":"quantitative","axis":{"title":null}},"text":{"value":"Compressive"}}},
{"data":{"values":[{}]},"mark":{"type":"text","align":"left","baseline":"middle","fontSize":15.5,"dx":-30,"dy":-15,"color":"black"},"encoding":{"x":{"datum":0,"type":"quantitative","axis":null},"y":{"datum":10.35,"type":"quantitative","axis":{"title":null}},"text":{"value":"(b)"}}}
]},
{"width":617,"height":540,"title":"Tensile strain","resolve":{"axis":{"x":"independent"}},
"layer":[
{"data":{"values":[{}]},"mark":{"type":"rect","color":"#f0f0f0"},"encoding":{"x":{"datum":30,"type":"quantitative","axis":{"orient":"bottom","values":[5,10,15,20,30,35,40,45,55,60,65,70,80,85,90,95,105,110,115,120],"tickSize":-3.5,"labels":false,"title":null,"domain":false}},"x2":{"datum":50}}},
{"data":{"values":[{}]},"mark":{"type":"rect","color":"#f0f0f0"},"encoding":{"x":{"datum":66.7,"type":"quantitative","axis":null},"x2":{"datum":83.3}}},
{"data":{"values":[{}]},"mark":{"type":"text","align":"left","baseline":"top","fontSize":13,"lineHeight":15,"color":"black"},"encoding":{"x":{"datum":31,"type":"quantitative","axis":null},"y":{"datum":13.85,"type":"quantitative"},"text":{"value":["Bulk-like","modes"]}}},
{"data":{"values":[{}]},"mark":{"type":"text","align":"left","baseline":"top","fontSize":13,"lineHeight":15,"color":"black"},"encoding":{"x":{"datum":68.1,"type":"quantitative","axis":null},"y":{"datum":13.85,"type":"quantitative"},"text":{"value":["Quasi-local","modes"]}}},
{"data":{"name":"curves"},"transform":[{"filter":"datum.g !== 'c' && datum.ax !== 'c'"},{"calculate":"datum.m * 2.65","as":"lvl"}],
 "mark":{"type":"rule","strokeDash":[2.5,2.5],"strokeWidth":0.8,"opacity":0.35},
 "encoding":{"y":{"field":"lvl","type":"quantitative","axis":{"title":"Phonon DOS (arb. units)"}},"color":{"field":"s","type":"nominal","legend":null,"scale":{"domain":["+2%","+1.5%","+1%","+0.5%","0%","−0.5%","−1%","−1.5%","−2%"],"range":["#08306b","#1764ab","#3787c0","#6baed6","#000000","#fb6a4a","#e32f27","#b11218","#67000d"]}}}},
{"data":{"name":"dos"},"transform":[{"fold":["at4","at3","at2","at1","ct4","ct3","ct2","ct1","z0","ac1","ac2","ac3","ac4","cc1","cc2","cc3","cc4"],"as":["k","v"]},{"filter":"isValid(datum.v)"},{"lookup":"k","from":{"data":{"name":"curves"},"key":"k","fields":["ax","g","m","s"]}},{"filter":"datum.g !== 'c'"},{"calculate":"datum.v + datum.m * 2.65","as":"y"}],
 "mark":{"type":"line","strokeWidth":1.6,"clip":true},
 "encoding":{"x":{"field":"e","type":"quantitative","scale":{"domain":[0,125],"nice":false},"axis":{"orient":"bottom","title":"Phonon energy (meV)","values":[0,25,50,75,100,125],"labelOverlap":false,"tickSize":-6,"labelPadding":8,"titlePadding":6}},
 "y":{"field":"y","type":"quantitative","scale":{"domain":[0,14.03],"nice":false,"zero":false},"axis":{"title":"Phonon DOS (arb. units)"}},
 "color":{"field":"s","type":"nominal","legend":null},"detail":{"field":"k"},
 "strokeDash":{"field":"ax","type":"nominal","legend":null,"scale":{"domain":["a","c","n"],"range":[[1,0],[4.5,2.5],[1,0]]}}}},
{"data":{"name":"curves"},"transform":[{"filter":"datum.g !== 'c' && datum.ax !== 'c'"},{"calculate":"datum.m * 2.65","as":"lvl"}],
 "mark":{"type":"text","align":"left","baseline":"alphabetic","dy":-7,"fontSize":14.4},
 "encoding":{"x":{"datum":1.95,"type":"quantitative","axis":null},"y":{"field":"lvl","type":"quantitative","axis":{"title":"Phonon DOS (arb. units)"}},"text":{"field":"s"},"color":{"field":"s","type":"nominal","legend":null}}},
{"data":{"values":[{}]},"mark":{"type":"rect","fill":{"gradient":"linear","x1":0,"x2":1,"y1":0,"y2":0,"stops":[{"offset":0,"color":"#6baed6"},{"offset":0.25,"color":"#6baed6"},{"offset":0.25,"color":"#3787c0"},{"offset":0.5,"color":"#3787c0"},{"offset":0.5,"color":"#1764ab"},{"offset":0.75,"color":"#1764ab"},{"offset":0.75,"color":"#08306b"},{"offset":1,"color":"#08306b"}]}},"encoding":{"x":{"datum":2.84,"type":"quantitative","axis":null},"x2":{"datum":9.72},"y":{"datum":13.27,"type":"quantitative"},"y2":{"datum":13.33}}},
{"data":{"values":[{}]},"mark":{"type":"rule","color":"#808080","strokeWidth":1.6},"encoding":{"x":{"datum":2.84,"type":"quantitative","axis":null},"x2":{"datum":9.72},"y":{"datum":12.6,"type":"quantitative"}}},
{"data":{"values":[{}]},"mark":{"type":"rule","color":"#808080","strokeWidth":1.6,"strokeDash":[4.5,2.5]},"encoding":{"x":{"datum":2.84,"type":"quantitative","axis":null},"x2":{"datum":9.72},"y":{"datum":12.08,"type":"quantitative"}}},
{"data":{"values":[{}]},"mark":{"type":"rule","color":"#000000","strokeWidth":1.6},"encoding":{"x":{"datum":2.84,"type":"quantitative","axis":null},"x2":{"datum":9.72},"y":{"datum":11.56,"type":"quantitative"}}},
{"data":{"values":[{}]},"mark":{"type":"text","align":"left","baseline":"middle","fontSize":12.8,"lineHeight":13.5,"color":"black"},"encoding":{"x":{"datum":11.35,"type":"quantitative","axis":null},"y":{"datum":13.46,"type":"quantitative"},"text":{"value":["Strain","magnitude"]}}},
{"data":{"values":[{}]},"mark":{"type":"text","align":"left","baseline":"middle","fontSize":12.8,"fontStyle":"italic","color":"black"},"encoding":{"x":{"datum":11.35,"type":"quantitative","axis":null},"y":{"datum":12.6,"type":"quantitative"},"text":{"value":"a"}}},
{"data":{"values":[{}]},"mark":{"type":"text","align":"left","baseline":"middle","fontSize":12.8,"dx":7.9,"color":"black"},"encoding":{"x":{"datum":11.35,"type":"quantitative","axis":null},"y":{"datum":12.6,"type":"quantitative"},"text":{"value":"-axis"}}},
{"data":{"values":[{}]},"mark":{"type":"text","align":"left","baseline":"middle","fontSize":12.8,"fontStyle":"italic","color":"black"},"encoding":{"x":{"datum":11.35,"type":"quantitative","axis":null},"y":{"datum":12.08,"type":"quantitative"},"text":{"value":"c"}}},
{"data":{"values":[{}]},"mark":{"type":"text","align":"left","baseline":"middle","fontSize":12.8,"dx":7.1,"color":"black"},"encoding":{"x":{"datum":11.35,"type":"quantitative","axis":null},"y":{"datum":12.08,"type":"quantitative"},"text":{"value":"-axis"}}},
{"data":{"values":[{}]},"mark":{"type":"text","align":"left","baseline":"middle","fontSize":12.8,"color":"black"},"encoding":{"x":{"datum":11.35,"type":"quantitative","axis":null},"y":{"datum":11.56,"type":"quantitative"},"text":{"value":"No strain"}}},
{"data":{"values":[{}]},"mark":{"type":"text","align":"left","baseline":"middle","fontSize":15.5,"dx":-30,"dy":-15,"color":"black"},"encoding":{"x":{"datum":0,"type":"quantitative","axis":null},"y":{"datum":14.03,"type":"quantitative"},"text":{"value":"(c)"}}}
]},
{"width":617,"height":540,"title":"Compressive strain","resolve":{"axis":{"x":"independent"}},
"layer":[
{"data":{"values":[{}]},"mark":{"type":"rect","color":"#f0f0f0"},"encoding":{"x":{"datum":30,"type":"quantitative","axis":{"orient":"bottom","values":[5,10,15,20,30,35,40,45,55,60,65,70,80,85,90,95,105,110,115,120],"tickSize":-3.5,"labels":false,"title":null,"domain":false}},"x2":{"datum":50}}},
{"data":{"values":[{}]},"mark":{"type":"rect","color":"#f0f0f0"},"encoding":{"x":{"datum":66.7,"type":"quantitative","axis":null},"x2":{"datum":83.3}}},
{"data":{"values":[{}]},"mark":{"type":"text","align":"left","baseline":"top","fontSize":13,"lineHeight":15,"color":"black"},"encoding":{"x":{"datum":31,"type":"quantitative","axis":null},"y":{"datum":13.85,"type":"quantitative","axis":{"title":null}},"text":{"value":["Bulk-like","modes"]}}},
{"data":{"values":[{}]},"mark":{"type":"text","align":"left","baseline":"top","fontSize":13,"lineHeight":15,"color":"black"},"encoding":{"x":{"datum":68.1,"type":"quantitative","axis":null},"y":{"datum":13.85,"type":"quantitative","axis":{"title":null}},"text":{"value":["Quasi-local","modes"]}}},
{"data":{"name":"curves"},"transform":[{"filter":"datum.g !== 't' && datum.ax !== 'c'"},{"calculate":"datum.m * 2.65","as":"lvl"}],
 "mark":{"type":"rule","strokeDash":[2.5,2.5],"strokeWidth":0.8,"opacity":0.35},
 "encoding":{"y":{"field":"lvl","type":"quantitative","axis":{"title":null}},"color":{"field":"s","type":"nominal","legend":null,"scale":{"domain":["+2%","+1.5%","+1%","+0.5%","0%","−0.5%","−1%","−1.5%","−2%"],"range":["#08306b","#1764ab","#3787c0","#6baed6","#000000","#fb6a4a","#e32f27","#b11218","#67000d"]}}}},
{"data":{"name":"dos"},"transform":[{"fold":["at4","at3","at2","at1","ct4","ct3","ct2","ct1","z0","ac1","ac2","ac3","ac4","cc1","cc2","cc3","cc4"],"as":["k","v"]},{"filter":"isValid(datum.v)"},{"lookup":"k","from":{"data":{"name":"curves"},"key":"k","fields":["ax","g","m","s"]}},{"filter":"datum.g !== 't'"},{"calculate":"datum.v + datum.m * 2.65","as":"y"}],
 "mark":{"type":"line","strokeWidth":1.6,"clip":true},
 "encoding":{"x":{"field":"e","type":"quantitative","scale":{"domain":[0,125],"nice":false},"axis":{"orient":"bottom","title":"Phonon energy (meV)","values":[0,25,50,75,100,125],"labelOverlap":false,"tickSize":-6,"labelPadding":8,"titlePadding":6}},
 "y":{"field":"y","type":"quantitative","scale":{"domain":[0,14.03],"nice":false,"zero":false},"axis":{"title":null}},
 "color":{"field":"s","type":"nominal","legend":null},"detail":{"field":"k"},
 "strokeDash":{"field":"ax","type":"nominal","legend":null,"scale":{"domain":["a","c","n"],"range":[[1,0],[4.5,2.5],[1,0]]}}}},
{"data":{"name":"curves"},"transform":[{"filter":"datum.g !== 't' && datum.ax !== 'c'"},{"calculate":"datum.m * 2.65","as":"lvl"}],
 "mark":{"type":"text","align":"left","baseline":"alphabetic","dy":-7,"fontSize":14.4},
 "encoding":{"x":{"datum":1.95,"type":"quantitative","axis":null},"y":{"field":"lvl","type":"quantitative","axis":{"title":null}},"text":{"field":"s"},"color":{"field":"s","type":"nominal","legend":null}}},
{"data":{"values":[{}]},"mark":{"type":"rect","fill":{"gradient":"linear","x1":0,"x2":1,"y1":0,"y2":0,"stops":[{"offset":0,"color":"#fb6a4a"},{"offset":0.25,"color":"#fb6a4a"},{"offset":0.25,"color":"#e32f27"},{"offset":0.5,"color":"#e32f27"},{"offset":0.5,"color":"#b11218"},{"offset":0.75,"color":"#b11218"},{"offset":0.75,"color":"#67000d"},{"offset":1,"color":"#67000d"}]}},"encoding":{"x":{"datum":2.84,"type":"quantitative","axis":null},"x2":{"datum":9.72},"y":{"datum":13.27,"type":"quantitative","axis":{"title":null}},"y2":{"datum":13.33}}},
{"data":{"values":[{}]},"mark":{"type":"rule","color":"#808080","strokeWidth":1.6},"encoding":{"x":{"datum":2.84,"type":"quantitative","axis":null},"x2":{"datum":9.72},"y":{"datum":12.6,"type":"quantitative","axis":{"title":null}}}},
{"data":{"values":[{}]},"mark":{"type":"rule","color":"#808080","strokeWidth":1.6,"strokeDash":[4.5,2.5]},"encoding":{"x":{"datum":2.84,"type":"quantitative","axis":null},"x2":{"datum":9.72},"y":{"datum":12.08,"type":"quantitative","axis":{"title":null}}}},
{"data":{"values":[{}]},"mark":{"type":"rule","color":"#000000","strokeWidth":1.6},"encoding":{"x":{"datum":2.84,"type":"quantitative","axis":null},"x2":{"datum":9.72},"y":{"datum":11.56,"type":"quantitative","axis":{"title":null}}}},
{"data":{"values":[{}]},"mark":{"type":"text","align":"left","baseline":"middle","fontSize":12.8,"lineHeight":13.5,"color":"black"},"encoding":{"x":{"datum":11.35,"type":"quantitative","axis":null},"y":{"datum":13.46,"type":"quantitative","axis":{"title":null}},"text":{"value":["Strain","magnitude"]}}},
{"data":{"values":[{}]},"mark":{"type":"text","align":"left","baseline":"middle","fontSize":12.8,"fontStyle":"italic","color":"black"},"encoding":{"x":{"datum":11.35,"type":"quantitative","axis":null},"y":{"datum":12.6,"type":"quantitative","axis":{"title":null}},"text":{"value":"a"}}},
{"data":{"values":[{}]},"mark":{"type":"text","align":"left","baseline":"middle","fontSize":12.8,"dx":7.9,"color":"black"},"encoding":{"x":{"datum":11.35,"type":"quantitative","axis":null},"y":{"datum":12.6,"type":"quantitative","axis":{"title":null}},"text":{"value":"-axis"}}},
{"data":{"values":[{}]},"mark":{"type":"text","align":"left","baseline":"middle","fontSize":12.8,"fontStyle":"italic","color":"black"},"encoding":{"x":{"datum":11.35,"type":"quantitative","axis":null},"y":{"datum":12.08,"type":"quantitative","axis":{"title":null}},"text":{"value":"c"}}},
{"data":{"values":[{}]},"mark":{"type":"text","align":"left","baseline":"middle","fontSize":12.8,"dx":7.1,"color":"black"},"encoding":{"x":{"datum":11.35,"type":"quantitative","axis":null},"y":{"datum":12.08,"type":"quantitative","axis":{"title":null}},"text":{"value":"-axis"}}},
{"data":{"values":[{}]},"mark":{"type":"text","align":"left","baseline":"middle","fontSize":12.8,"color":"black"},"encoding":{"x":{"datum":11.35,"type":"quantitative","axis":null},"y":{"datum":11.56,"type":"quantitative","axis":{"title":null}},"text":{"value":"No strain"}}},
{"data":{"values":[{}]},"mark":{"type":"text","align":"left","baseline":"middle","fontSize":15.5,"dx":-30,"dy":-15,"color":"black"},"encoding":{"x":{"datum":0,"type":"quantitative","axis":null},"y":{"datum":14.03,"type":"quantitative","axis":{"title":null}},"text":{"value":"(d)"}}}
]}
]
}
